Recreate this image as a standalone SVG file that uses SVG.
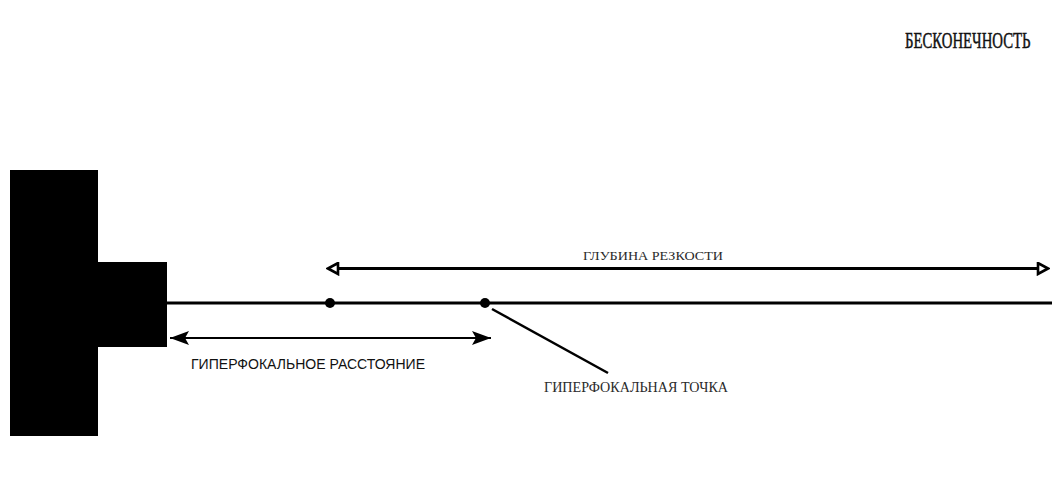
<svg xmlns="http://www.w3.org/2000/svg" width="1052" height="488" viewBox="0 0 1052 488">
<style>
.ln{stroke:#000;fill:none}
.serif{font-family:"Liberation Serif","DejaVu Serif",serif;fill:#2a2a2a}
.sans{font-family:"Liberation Sans","DejaVu Sans",sans-serif;fill:#111}
</style>
<defs>
<marker id="open" viewBox="0 0 14 14" refX="12" refY="7" markerWidth="14" markerHeight="14" markerUnits="userSpaceOnUse" orient="auto-start-reverse">
<path d="M12,7 L2,1.5 L2,12.5 Z" fill="#fff" stroke="#000" stroke-width="2.6" stroke-linejoin="miter"/>
</marker>
<marker id="solid" viewBox="0 0 28 16" refX="27" refY="8" markerWidth="28" markerHeight="16" markerUnits="userSpaceOnUse" orient="auto-start-reverse">
<path d="M27,8 L8,1 L12,8 L8,15 Z" fill="#000"/>
</marker>
</defs>
<rect width="1052" height="488" fill="#fff"/>
<g id="camera">
<rect x="10" y="170" width="88" height="266" fill="#000"/>
<rect x="97" y="262" width="70" height="85" fill="#000"/>
</g>
<g id="connectors">
<line class="ln" x1="167" y1="303" x2="1052" y2="303" stroke-width="3"/>
<line class="ln" x1="328" y1="268.5" x2="1048" y2="268.5" stroke-width="3" marker-start="url(#open)" marker-end="url(#open)"/>
<line class="ln" x1="170" y1="338" x2="491" y2="338" stroke-width="2" marker-start="url(#solid)" marker-end="url(#solid)"/>
<line class="ln" x1="492" y1="309" x2="608" y2="373" stroke-width="2.5"/>
</g>
<g id="points">
<circle cx="330" cy="303" r="5" fill="#000"/>
<circle cx="485" cy="303" r="5" fill="#000"/>
</g>
<g id="labels">
<text class="serif" transform="translate(905,48) scale(0.615,1)" x="0" y="0" font-size="24" style="fill:#111;stroke:#111;stroke-width:0.5">БЕСКОНЕЧНОСТЬ</text>
<text class="serif" x="583" y="260" font-size="13.5" textLength="140" lengthAdjust="spacingAndGlyphs">ГЛУБИНА РЕЗКОСТИ</text>
<text class="sans" x="191" y="369" font-size="15" textLength="234" lengthAdjust="spacingAndGlyphs">ГИПЕРФОКАЛЬНОЕ РАССТОЯНИЕ</text>
<text class="serif" x="544" y="392" font-size="14" textLength="184" lengthAdjust="spacingAndGlyphs">ГИПЕРФОКАЛЬНАЯ ТОЧКА</text>
</g>
</svg>
